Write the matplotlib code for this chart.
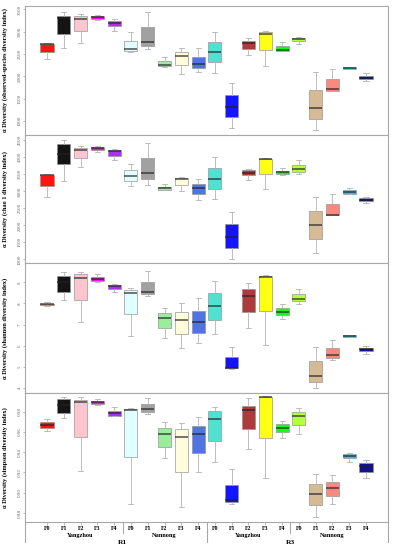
import matplotlib
matplotlib.use('Agg')
import matplotlib.pyplot as plt

plt.rcParams['font.family'] = ['Liberation Serif', 'DejaVu Serif']

# ---------------------------------------------------------------------------
# Data: whisker low, Q1, median, Q3, whisker high
# ---------------------------------------------------------------------------
fert_labels = ['F0', 'F1', 'F2', 'F3', 'F4'] * 4
site_labels = ['Yangzhou', 'Nannong', 'Yangzhou', 'Nannong']
region_labels = ['R1', 'R3']
box_colors = ['red', 'black', 'pink', '#E600E6', '#A020F0',
              '#E0FFFF', '#999999', 'lightgreen', '#FFFDD8', 'royalblue',
              'turquoise', 'blue', 'brown', 'yellow', '#00FF00',
              'greenyellow', 'tan', 'salmon', '#00CDCD', 'navy']

obs_low = [2382, 2642, 2754, 3262, 3016, 2553, 2606, 2220, 2053, 2091,
           2082, 843, 2478, 2225, 2560, 2731, 798, 1670, 2165, 1903]
obs_q1 = [2550, 2942, 3023, 3292, 3121, 2568, 2687, 2225, 2261, 2180,
          2315, 1083, 2620, 2590, 2568, 2785, 1038, 1679, 2172, 1934]
obs_med = [2717, 3300, 3292, 3330, 3189, 2606, 2762, 2248, 2456, 2277,
           2553, 1314, 2740, 2956, 2590, 2830, 1298, 1710, 2194, 1970]
obs_q3 = [2731, 3352, 3352, 3352, 3233, 2799, 3112, 2337, 2546, 2440,
          2770, 1576, 2799, 2987, 2680, 2859, 1694, 1934, 2203, 2001]
obs_high = [2754, 3448, 3390, 3374, 3278, 2987, 3448, 2440, 2642, 2628,
            2987, 1844, 2866, 3016, 2777, 2888, 2098, 2158, 2217, 2068]

chao_low = [2823, 3313, 3724, 4146, 3920, 3156, 3185, 3040, 3019, 2744,
            2764, 1000, 3342, 3078, 3480, 3499, 1196, 2290, 2925, 2646]
chao_q1 = [3156, 3793, 3969, 4214, 4048, 3303, 3362, 3048, 3185, 2921,
           3068, 1323, 3489, 3519, 3519, 3577, 1598, 2294, 2931, 2705]
chao_med = [3470, 4100, 4214, 4263, 4185, 3440, 3528, 3087, 3352, 3087,
            3372, 1657, 3548, 3940, 3568, 3656, 2009, 2303, 2980, 2754]
chao_q3 = [3480, 4381, 4263, 4303, 4205, 3617, 3969, 3136, 3381, 3215,
           3695, 2029, 3617, 3950, 3607, 3773, 2411, 2617, 3038, 2803]
chao_high = [3509, 4508, 4332, 4322, 4244, 3793, 4410, 3205, 3411, 3372,
             4018, 2382, 3646, 3969, 3675, 3911, 2842, 2931, 3097, 2842]

shan_low = [7.88, 8.16, 7.13, 9.03, 8.54, 6.45, 8.35, 6.37, 5.87, 6.10,
            6.53, 4.89, 6.85, 6.01, 7.24, 7.99, 3.97, 5.33, 6.41, 5.60]
shan_q1 = [7.91, 8.53, 8.18, 9.08, 8.70, 7.48, 8.45, 6.85, 6.53, 6.58,
           7.20, 4.92, 7.61, 7.64, 7.43, 8.10, 4.27, 5.42, 6.42, 5.76]
shan_med = [7.96, 9.00, 9.22, 9.16, 8.83, 8.51, 8.56, 7.31, 7.21, 7.10,
            7.88, 4.95, 8.37, 9.27, 7.61, 8.21, 4.55, 5.53, 6.45, 5.84]
shan_q3 = [7.99, 9.30, 9.38, 9.27, 8.87, 8.62, 9.03, 7.53, 7.61, 7.66,
           8.48, 5.44, 8.67, 9.28, 7.77, 8.45, 5.25, 5.87, 6.48, 5.90]
shan_high = [8.05, 9.51, 9.51, 9.41, 8.92, 8.75, 9.54, 7.77, 8.03, 8.24,
             9.08, 5.93, 8.98, 9.33, 7.96, 8.70, 5.93, 6.26, 6.50, 5.96]

simp_low = [0.9612, 0.9734, 0.9218, 0.9865, 0.9755, 0.8889, 0.9774, 0.9346, 0.8856, 0.9208,
            0.9307, 0.8889, 0.9432, 0.9142, 0.9543, 0.9576, 0.8764, 0.8889, 0.9300, 0.9149]
simp_q1 = [0.9642, 0.9790, 0.9547, 0.9880, 0.9760, 0.9349, 0.9800, 0.9455, 0.9201, 0.9389,
           0.9514, 0.8905, 0.9626, 0.9537, 0.9596, 0.9668, 0.8879, 0.8971, 0.9339, 0.9208]
simp_med = [0.9668, 0.9870, 0.9900, 0.9895, 0.9790, 0.9813, 0.9826, 0.9576, 0.9553, 0.9576,
            0.9724, 0.8925, 0.9816, 0.9940, 0.9642, 0.9761, 0.8984, 0.9050, 0.9362, 0.9264]
simp_q3 = [0.9695, 0.9925, 0.9916, 0.9905, 0.9807, 0.9823, 0.9875, 0.9636, 0.9626, 0.9662,
           0.9807, 0.9073, 0.9856, 0.9945, 0.9675, 0.9797, 0.9083, 0.9109, 0.9379, 0.9290]
simp_high = [0.9724, 0.9945, 0.9945, 0.9925, 0.9850, 0.9840, 0.9935, 0.9700, 0.9691, 0.9747,
             0.9849, 0.9231, 0.9935, 0.9950, 0.9711, 0.9833, 0.9182, 0.9175, 0.9389, 0.9323]

positions = list(range(1, 21))

# ---------------------------------------------------------------------------
# Panel configuration
# ---------------------------------------------------------------------------
W, H = 394, 550
panels = [
    ('\u03b1 Diversity (observed-species diversity index)',
     (obs_low, obs_q1, obs_med, obs_q3, obs_high), (686, 3576),
     [1000, 1500, 2000, 2500, 3000, 3500], '{:.0f}', (6, 135)),
    ('\u03b1 Diversity (chao 1 diversity index)',
     (chao_low, chao_q1, chao_med, chao_q3, chao_high), (892, 4656),
     [1000, 1500, 2000, 2500, 3000, 3500, 4000, 4500], '{:.0f}', (135, 263)),
    ('\u03b1 Diversity (shannon diversity index)',
     (shan_low, shan_q1, shan_med, shan_q3, shan_high), (3.75, 9.92),
     [4, 5, 6, 7, 8, 9], '{:.0f}', (263, 393)),
    ('\u03b1 Diversity (simpson diversity index)',
     (simp_low, simp_q1, simp_med, simp_q3, simp_high), (0.8711, 0.9984),
     [0.88, 0.90, 0.92, 0.94, 0.96, 0.98], '{:.2f}', (393, 522)),
]

frame_col = '#a8a8a8'
x_left, x_right = 25, 388

fig = plt.figure(figsize=(W / 100, H / 100), dpi=100)

for i, (ylabel, stats, ylim, yticks, fmt, (top, bottom)) in enumerate(panels):
    ax = fig.add_axes([x_left / W, (H - bottom) / H,
                       (x_right - x_left) / W, (bottom - top) / H])
    low, q1, med, q3, high = stats
    bxp_stats = [dict(whislo=low[k], q1=q1[k], med=med[k], q3=q3[k],
                      whishi=high[k], fliers=[]) for k in range(20)]
    res = ax.bxp(bxp_stats, positions=positions, widths=0.78,
                 patch_artist=True, showfliers=False,
                 boxprops=dict(linewidth=0.5, edgecolor='#909090'),
                 whiskerprops=dict(color='#b4b4b4', linewidth=0.6),
                 capprops=dict(color='#b4b4b4', linewidth=0.6),
                 medianprops=dict(color='#222222', linewidth=1.1, alpha=0.8),
                 capwidths=0.3)
    for patch, c in zip(res['boxes'], box_colors):
        patch.set_facecolor(c)
        patch.set_alpha(0.92)

    ax.set_xlim(-0.31, 21.31)
    ax.set_ylim(*ylim)
    ax.set_yticks(yticks)
    ax.set_yticklabels([fmt.format(v) for v in yticks], rotation=90,
                       va='center', fontsize=3.6, color='#666666')
    ax.tick_params(axis='y', length=1.5, width=0.4, pad=1.0, color='#888888')
    ax.set_ylabel(ylabel, fontsize=4.6, fontweight='bold', labelpad=0)
    ax.yaxis.set_label_coords(-0.047, 0.5)
    for s in ax.spines.values():
        s.set_color(frame_col)
        s.set_linewidth(0.8)

    if i < 3:
        ax.set_xticks([])
    else:
        ax.set_xticks(positions)
        ax.set_xticklabels(fert_labels, fontsize=4.2, fontweight='bold')
        ax.tick_params(axis='x', length=1.8, width=0.4, pad=1.2,
                       color='#888888')
        trans = ax.get_xaxis_transform()
        h_px = bottom - top
        for pos, name in zip([3, 8, 13, 18], site_labels):
            ax.text(pos, -(535 - bottom) / h_px, name, transform=trans,
                    ha='center', va='center', fontsize=4.6,
                    fontweight='bold')
        for pos, name in zip([5.5, 15.5], region_labels):
            ax.text(pos, -(543 - bottom) / h_px, name, transform=trans,
                    ha='center', va='center', fontsize=5.4,
                    fontweight='bold')
        for xv, depth in [(5.5, 533), (15.5, 533), (10.5, 542),
                          (-0.31, 542), (21.31, 542)]:
            ax.plot([xv, xv], [0, -(depth - bottom) / h_px], transform=trans,
                    color=frame_col, linewidth=0.8, clip_on=False)

fig.savefig('out.png', dpi=100, facecolor='white')
